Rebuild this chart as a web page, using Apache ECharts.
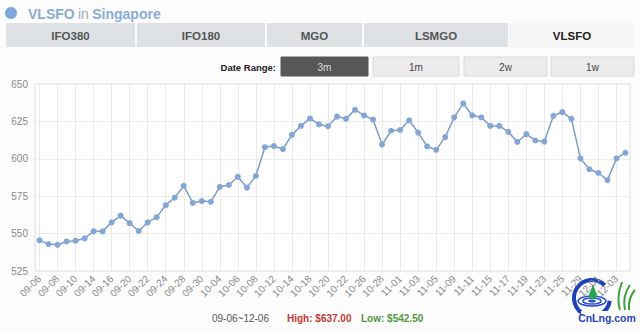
<!DOCTYPE html>
<html>
<head>
<meta charset="utf-8">
<script src="https://cdn.jsdelivr.net/npm/echarts@6/dist/echarts.min.js"></script>
<style>
html,body{margin:0;padding:0;background:#fcfcfc;}
#c{width:640px;height:331px;}
</style>
</head>
<body>
<div id="c"></div>
<script>
const categories = ['09-06','09-07','09-08','09-09','09-10','09-13','09-14','09-15','09-16','09-17',
 '09-20','09-21','09-22','09-23','09-24','09-27','09-28','09-29','09-30','10-01',
 '10-04','10-05','10-06','10-07','10-08','10-11','10-12','10-13','10-14','10-15',
 '10-18','10-19','10-20','10-21','10-22','10-25','10-26','10-27','10-28','10-29',
 '11-01','11-02','11-03','11-04','11-05','11-08','11-09','11-10','11-11','11-12',
 '11-15','11-16','11-17','11-18','11-19','11-22','11-23','11-24','11-25','11-26',
 '11-29','11-30','12-01','12-02','12-03','12-06'];
const prices = [545.5,543.0,542.5,544.75,545.25,546.75,551.5,551.5,557.5,562.0,
 557.0,551.75,557.5,561.0,569.0,574.0,582.0,570.5,571.75,571.25,
 581.25,582.5,588.0,580.75,588.5,607.75,608.5,606.5,616.0,622.0,
 627.0,623.0,621.75,628.25,626.75,632.75,629.0,626.25,609.5,618.75,
 619.25,625.75,617.5,608.25,606.0,614.5,627.75,637.0,629.0,627.75,
 622.0,622.0,618.0,611.25,616.5,612.25,611.5,628.75,631.25,626.75,
 600.25,593.0,590.5,585.75,600.25,604.0];
const tabs = ['IFO380','IFO180','MGO','LSMGO','VLSFO'];
const ranges = ['3m','1m','2w','1w'];
const yTicks = {min:525, max:650, interval:25};
const summary = {range:'09-06~12-06', high:'High: $637.00', low:'Low: $542.50'};

const FONT = 'Liberation Sans, Arial, Helvetica, sans-serif';
const chart = echarts.init(document.getElementById('c'), null, {renderer:'svg'});

const tabBoxes = [[6,135],[137,265],[267,362],[364,508],[509,635]];
const rangeBoxes = [[281,368],[373,459],[464,547],[551,634]];
const g = [];
// title
g.push({type:'circle', shape:{cx:11, cy:13, r:6}, style:{fill:'#7ea6de'}});
g.push({type:'text', x:28, y:14, style:{
  text:'{a|VLSFO} {b|in} {a|Singapore}', verticalAlign:'middle', rich:{
    a:{fontFamily:FONT, fontSize:14, fontWeight:'bold', fill:'#88acd7'},
    b:{fontFamily:FONT, fontSize:14, fill:'#9eabb9'}
  }}});
// tabs
tabs.forEach((t,i)=>{
  const [x0,x1] = tabBoxes[i];
  const active = i===tabs.length-1;
  g.push({type:'rect', shape:{x:x0, y:23, width:x1-x0, height:24},
    style:{fill: active ? '#f6f6f6' : '#dfe2e5'}});
  g.push({type:'text', x:(x0+x1)/2, y:35.5, style:{text:t, align:'center', verticalAlign:'middle',
    fontFamily:FONT, fontSize:11.5, fontWeight:'bold', fill: active ? '#222' : '#555'}});
});
// date range
g.push({type:'text', x:276, y:67, style:{text:'Date Range:', align:'right', verticalAlign:'middle',
  fontFamily:FONT, fontSize:9.5, fontWeight:'bold', fill:'#222'}});
ranges.forEach((r,i)=>{
  const [x0,x1] = rangeBoxes[i];
  const active = i===0;
  g.push({type:'rect', shape:{x:x0, y:57, width:x1-x0, height:19},
    style:{fill: active ? '#575757' : '#ececec', stroke: active ? '#575757' : '#d8d8d8', lineWidth:1}});
  g.push({type:'text', x:(x0+x1)/2, y:67, style:{text:r, align:'center', verticalAlign:'middle',
    fontFamily:FONT, fontSize:10, fill: active ? '#dddddd' : '#444'}});
});
// summary
g.push({type:'text', x:212, y:318, style:{text:summary.range, verticalAlign:'middle',
  fontFamily:FONT, fontSize:10, fill:'#555'}});
g.push({type:'text', x:287, y:318, style:{text:summary.high, verticalAlign:'middle',
  fontFamily:FONT, fontSize:10, fontWeight:'bold', fill:'#c43b32'}});
g.push({type:'text', x:361, y:318, style:{text:summary.low, verticalAlign:'middle',
  fontFamily:FONT, fontSize:10, fontWeight:'bold', fill:'#4f9a3a'}});
// logo (watermark)
g.push({type:'group', z:100, children:[
  {type:'arc', shape:{cx:592, cy:298, r:18, startAngle:Math.PI*0.05, endAngle:Math.PI*1.75},
    style:{stroke:'#1e3fc0', lineWidth:4, fill:null}},
  {type:'ellipse', shape:{cx:592, cy:301, rx:14, ry:5}, style:{stroke:'#2b4fd0', lineWidth:1.5, fill:null}},
  {type:'ellipse', shape:{cx:592, cy:301, rx:9, ry:3}, style:{stroke:'#2b4fd0', lineWidth:1.5, fill:null}},
  {type:'ellipse', shape:{cx:592, cy:301, rx:4, ry:1.5}, style:{fill:'#2b4fd0'}},
  {type:'circle', shape:{cx:593, cy:295, r:4}, style:{fill:'#21a84a'}},
  {type:'polygon', shape:{points:[[589.5,294],[596.5,294],[593,284]]}, style:{fill:'#21a84a'}},
  {type:'bezierCurve', shape:{x1:620,y1:310,x2:622,y2:282,cpx1:616,cpy1:298}, style:{stroke:'#3ba33a', lineWidth:2, fill:null}},
  {type:'bezierCurve', shape:{x1:625,y1:310,x2:630,y2:285,cpx1:622,cpy1:296}, style:{stroke:'#3ba33a', lineWidth:2, fill:null}},
  {type:'bezierCurve', shape:{x1:629,y1:310,x2:635,y2:290,cpx1:628,cpy1:298}, style:{stroke:'#3ba33a', lineWidth:2, fill:null}},
  {type:'rect', shape:{x:581, y:311, width:56, height:13}, style:{fill:'#ffffff'}},
  {type:'text', x:607, y:318, style:{text:'CnLng.com', align:'center', verticalAlign:'middle',
    fontFamily:FONT, fontSize:10.5, fontWeight:'bold', fill:'#1e3fc0'}}
]});

chart.setOption({
  animation:false,
  backgroundColor:'#fcfcfc',
  grid:{left:35, right:10, top:84, bottom:60, show:true, backgroundColor:'#ffffff', borderColor:'#dcdcdc', borderWidth:1},
  xAxis:{type:'category', data:categories, boundaryGap:true,
    axisLine:{show:false}, axisTick:{show:false},
    axisLabel:{interval:1, rotate:45, fontSize:10, color:'#8a8a8a', fontFamily:FONT, margin:6},
    splitLine:{show:true, interval:1, alignWithLabel:true, lineStyle:{color:'#e9e9e9', width:1}}},
  yAxis:{type:'value', min:yTicks.min, max:yTicks.max, interval:yTicks.interval,
    axisLine:{show:false}, axisTick:{show:false},
    axisLabel:{fontSize:10, color:'#888', fontFamily:FONT, margin:7},
    splitLine:{lineStyle:{color:'#ececec'}}},
  series:[{type:'line', data:prices, symbol:'circle', symbolSize:6,
    lineStyle:{color:'#7c9ccb', width:1.5},
    itemStyle:{color:'#82a6da'}}],
  graphic:g
});
</script>
</body>
</html>
